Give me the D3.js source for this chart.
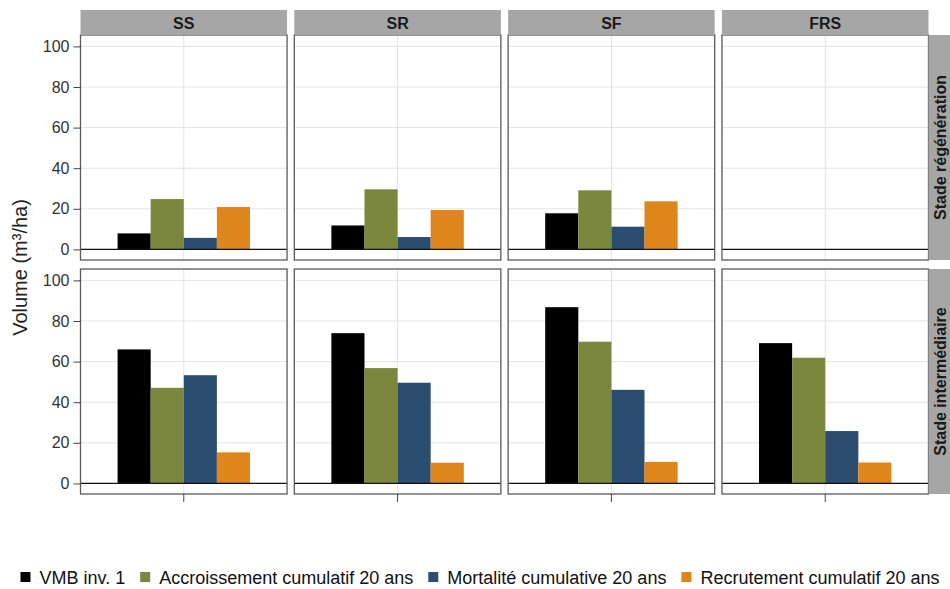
<!DOCTYPE html>
<html>
<head>
<meta charset="utf-8">
<script src="https://cdn.jsdelivr.net/npm/d3@7"></script>
<style>
  body { margin: 0; background: #fff; }
  text { font-family: "Liberation Sans", Arial, sans-serif; }
</style>
</head>
<body>
<svg id="chart" width="950" height="589"></svg>
<script>
// Facet categories
const types = ["SS", "SR", "SF", "FRS"];
const stades = ["Stade régénération", "Stade intermédiaire"];
const seriesNames = ["VMB inv. 1", "Accroissement cumulatif 20 ans", "Mortalité cumulative 20 ans", "Recrutement cumulatif 20 ans"];
const seriesColors = ["#000000", "#7a873d", "#2b4d6f", "#de8619"];
const yTicks = [0, 20, 40, 60, 80, 100];

// Values per type (SS, SR, SF, FRS), null = no data
const vmbRegen = [7.9, 11.8, 17.8, null];
const accRegen = [24.8, 29.6, 29.1, null];
const mortRegen = [5.7, 6.1, 11.2, null];
const recRegen = [20.9, 19.4, 23.7, null];

const vmbInter = [66.0, 74.0, 86.8, 69.1];
const accInter = [47.1, 56.8, 69.8, 61.9];
const mortInter = [53.3, 49.6, 46.1, 25.8];
const recInter = [15.3, 10.2, 10.6, 10.3];

const valuesByStade = [
    [vmbRegen, accRegen, mortRegen, recRegen],
    [vmbInter, accInter, mortInter, recInter]
];

const svg = d3.select("#chart");

// Facet layout
const col = d3.scaleBand().domain(types).range([80.5, 928.5]).paddingInner(0.034);
const row = d3.scaleBand().domain(stades).range([35, 494]).paddingInner(0.0385);
const stripH = 25, stripW = 22;

const y = d3.scaleLinear().domain([-5.2, 105.6]).range([row.bandwidth(), 0]);
const xGroup = d3.scaleBand().domain(["g"]).range([0, col.bandwidth()]).paddingOuter(0.28);
const xSeries = d3.scaleBand().domain(seriesNames).range([0, xGroup.bandwidth()]);
const color = d3.scaleOrdinal().domain(seriesNames).range(seriesColors);

stades.forEach((stade, si) => {
    types.forEach((type, ti) => {
        const g = svg.append("g")
            .attr("transform", `translate(${col(type)}, ${row(stade)})`);

        // Grid
        g.selectAll(".hgrid")
            .data(yTicks)
            .enter()
            .append("line")
            .attr("x1", 0).attr("x2", col.bandwidth())
            .attr("y1", d => y(d)).attr("y2", d => y(d))
            .attr("stroke", "#e3e3e3").attr("stroke-width", 1);

        g.append("line")
            .attr("x1", xGroup("g") + xGroup.bandwidth() / 2)
            .attr("x2", xGroup("g") + xGroup.bandwidth() / 2)
            .attr("y1", 0).attr("y2", row.bandwidth())
            .attr("stroke", "#e3e3e3").attr("stroke-width", 1);

        // Bars
        const bars = seriesNames.map((name, k) => ({ name, value: valuesByStade[si][k][ti] }))
            .filter(d => d.value != null);

        g.selectAll(".bar")
            .data(bars)
            .enter()
            .append("rect")
            .attr("x", d => xGroup("g") + xSeries(d.name))
            .attr("y", d => y(d.value))
            .attr("width", xSeries.bandwidth())
            .attr("height", d => y(0) - y(d.value))
            .attr("fill", d => color(d.name));

        // Zero line
        g.append("line")
            .attr("x1", 0).attr("x2", col.bandwidth())
            .attr("y1", y(0)).attr("y2", y(0))
            .attr("stroke", "#111").attr("stroke-width", 1.2);

        // Panel border
        g.append("rect")
            .attr("x", 0).attr("y", 0)
            .attr("width", col.bandwidth()).attr("height", row.bandwidth())
            .attr("fill", "none")
            .attr("stroke", "#5a5a5a").attr("stroke-width", 1.3);

        // Y axis on first column
        if (ti === 0) {
            const ax = g.append("g")
                .call(d3.axisLeft(y).tickValues(yTicks).tickSize(7).tickPadding(4));
            ax.select(".domain").remove();
            ax.selectAll("line").attr("stroke", "#444");
            ax.selectAll("text")
                .style("font-size", "16px")
                .style("font-family", "Liberation Sans, Arial, sans-serif")
                .attr("fill", "#333");
        }

        // X tick on bottom row
        if (si === stades.length - 1) {
            const cx = xGroup("g") + xGroup.bandwidth() / 2;
            g.append("line")
                .attr("x1", cx).attr("x2", cx)
                .attr("y1", row.bandwidth()).attr("y2", row.bandwidth() + 8)
                .attr("stroke", "#444");
        }
    });

    // Right strip
    const rs = svg.append("g")
        .attr("transform", `translate(${col("FRS") + col.bandwidth()}, ${row(stade)})`);
    rs.append("rect")
        .attr("width", stripW).attr("height", row.bandwidth())
        .attr("fill", "#a6a6a6");
    rs.append("text")
        .attr("transform", `translate(${stripW / 2 + 6}, ${row.bandwidth() / 2}) rotate(-90)`)
        .attr("text-anchor", "middle")
        .style("font-size", "16px")
        .style("font-weight", "bold")
        .attr("fill", "#1a1a1a")
        .text(stade);
});

// Top strips
types.forEach(type => {
    const ts = svg.append("g")
        .attr("transform", `translate(${col(type)}, ${row(stades[0]) - stripH})`);
    ts.append("rect")
        .attr("width", col.bandwidth()).attr("height", stripH)
        .attr("fill", "#a6a6a6");
    ts.append("text")
        .attr("x", col.bandwidth() / 2)
        .attr("y", stripH / 2 + 6)
        .attr("text-anchor", "middle")
        .style("font-size", "16px")
        .style("font-weight", "bold")
        .attr("fill", "#1a1a1a")
        .text(type);
});

// Y axis title
svg.append("text")
    .attr("transform", `translate(27, ${(row.range()[0] + row.range()[1]) / 2 + 3}) rotate(-90)`)
    .attr("text-anchor", "middle")
    .style("font-size", "20px")
    .attr("fill", "#222")
    .text("Volume (m³/ha)");

// Legend
const legend = svg.append("g").attr("transform", "translate(0, 577)");
const items = legend.selectAll(".item")
    .data(seriesNames)
    .enter()
    .append("g");

items.append("rect")
    .attr("y", -5)
    .attr("width", 10).attr("height", 10)
    .attr("fill", d => color(d));

items.append("text")
    .attr("x", 19)
    .attr("y", 6.5)
    .style("font-size", "18px")
    .attr("fill", "#111")
    .text(d => d);

const widths = [];
items.each(function () {
    widths.push(d3.select(this).select("text").node().getComputedTextLength() + 19);
});
const gapL = 15;
const total = d3.sum(widths) + gapL * (widths.length - 1);
let offset = 480 - total / 2;
items.attr("transform", (d, i) => {
    const x = offset;
    offset += widths[i] + gapL;
    return `translate(${x}, 0)`;
});
</script>
</body>
</html>
